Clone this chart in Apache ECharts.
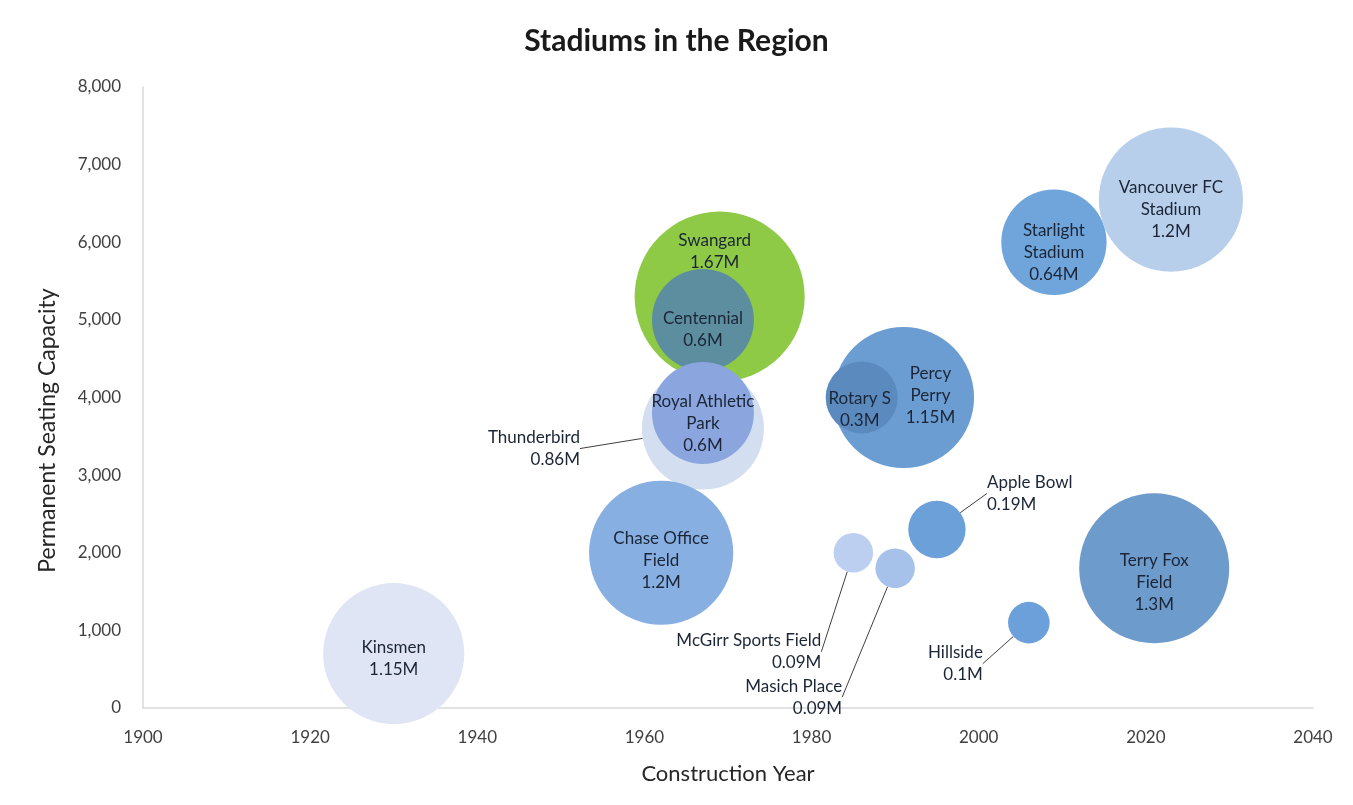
<!DOCTYPE html>
<html><head><meta charset="utf-8">
<script src="https://cdn.jsdelivr.net/npm/echarts@6/dist/echarts.min.js"></script>
<style>html,body{margin:0;padding:0;background:#fff}#c{width:1353px;height:805px}</style>
</head><body><div id="c"></div>
<script>
// ---- data ----
const stadiums = ['Kinsmen','Swangard','Centennial','Thunderbird','Royal Athletic Park','Chase Office Field','Percy Perry','Rotary S','Apple Bowl','McGirr Sports Field','Masich Place','Hillside','Starlight Stadium','Vancouver FC Stadium','Terry Fox Field'];
const labelText = ['Kinsmen','Swangard','Centennial','Thunderbird','Royal Athletic\nPark','Chase Office\nField','Percy\nPerry','Rotary S','Apple Bowl','McGirr Sports Field','Masich Place','Hillside','Starlight\nStadium','Vancouver FC\nStadium','Terry Fox\nField'];
const constructionYear = [1930, 1969, 1967, 1967, 1967, 1962, 1991, 1986, 1995, 1985, 1990, 2006, 2009, 2023, 2021];
const seatingCapacity = [700, 5300, 5000, 3600, 3800, 2000, 4000, 4000, 2300, 2000, 1800, 1100, 6000, 6550, 1800];
const attendanceM = [1.15, 1.67, 0.6, 0.86, 0.6, 1.2, 1.15, 0.3, 0.19, 0.09, 0.09, 0.1, 0.64, 1.2, 1.3];
const xTicks = [1900, 2040, 20];
const yTicks = [0, 8000, 1000];

// ---- styling ----
const colors = {
  'Kinsmen':'#dfe5f4','Swangard':'#8fca46','Centennial':'#5c8ea0','Thunderbird':'#d3dff1',
  'Royal Athletic Park':'#8ba5de','Chase Office Field':'#87afe1','Percy Perry':'#6c9dd2','Rotary S':'#5b8abf',
  'Apple Bowl':'#6ca0d9','McGirr Sports Field':'#bccff0','Masich Place':'#a6c1ea','Hillside':'#6ca0da',
  'Starlight Stadium':'#6fa5db','Vancouver FC Stadium':'#b8cfeb','Terry Fox Field':'#6d9bcc'
};
const placement = {
  'Thunderbird':[-123,20,'right'],
  'Apple Bowl':[50,-36,'left'],
  'McGirr Sports Field':[-32,99,'right'],
  'Masich Place':[-53,129,'right'],
  'Hillside':[-46,41,'right'],
  'Swangard':[-5,-45,'center'],
  'Percy Perry':[27,-2,'center'],
  'Rotary S':[-2,12,'center'],
  'Chase Office Field':[0,8,'center'],
  'Terry Fox Field':[0,14,'center'],
  'Kinsmen':[0,5,'center']
};
const outside = ['Thunderbird','Apple Bowl','McGirr Sports Field','Masich Place','Hillside'];
const FONT = 'Lato, "Noto Sans", sans-serif';

const seriesData = stadiums.map((n,i)=>({
  name:n,
  value:[constructionYear[i], seatingCapacity[i], attendanceM[i]],
  itemStyle:{color:colors[n], opacity:1},
  label:{formatter: labelText[i] + '\n' + attendanceM[i] + 'M'},
  labelLine:{show: outside.indexOf(n) >= 0}
}));

const chart = echarts.init(document.getElementById('c'));
chart.setOption({
  animation:false,
  backgroundColor:'#ffffff',
  title:{text:'Stadiums in the Region',left:'center',top:21,
    textStyle:{fontFamily:FONT,fontSize:30,fontWeight:'bold',color:'#1a1a1a'}},
  grid:{left:143,right:40,top:87,bottom:97,containLabel:false},
  xAxis:{type:'value',min:xTicks[0],max:xTicks[1],interval:xTicks[2],
    name:'Construction Year',nameLocation:'middle',nameGap:55,
    nameTextStyle:{fontFamily:FONT,fontSize:22,color:'#262626'},
    axisLine:{show:true,lineStyle:{color:'#d9d9d9',width:1.5}},
    axisTick:{show:false},splitLine:{show:false},
    axisLabel:{fontFamily:FONT,fontSize:17,color:'#404040',margin:21,formatter:v=>String(v)}},
  yAxis:{type:'value',min:yTicks[0],max:yTicks[1],interval:yTicks[2],
    name:'Permanent Seating Capacity',nameLocation:'middle',nameGap:84,
    nameTextStyle:{fontFamily:FONT,fontSize:23,color:'#262626',padding:[0,66,0,0]},
    axisLine:{show:true,lineStyle:{color:'#d9d9d9',width:1.5}},
    axisTick:{show:false},splitLine:{show:false},
    axisLabel:{fontFamily:FONT,fontSize:17,color:'#404040',margin:22,
      formatter:v=>v.toLocaleString('en-US')}},
  series:[{
    type:'scatter',
    data:seriesData,
    symbolSize:d=>131.6*Math.sqrt(d[2]),
    clip:false,
    label:{show:true,position:'inside',fontFamily:FONT,fontSize:17,lineHeight:22,color:'#1b2536'},
    labelLine:{show:false,length2:0,lineStyle:{color:'#404040',width:1}},
    labelLayout:function(p){
      const n = stadiums[p.dataIndex];
      const o = placement[n];
      if(o) return {dx:o[0],dy:o[1],align:o[2]};
      return {dy:10};
    },
    emphasis:{disabled:true}
  }]
});
</script></body></html>
